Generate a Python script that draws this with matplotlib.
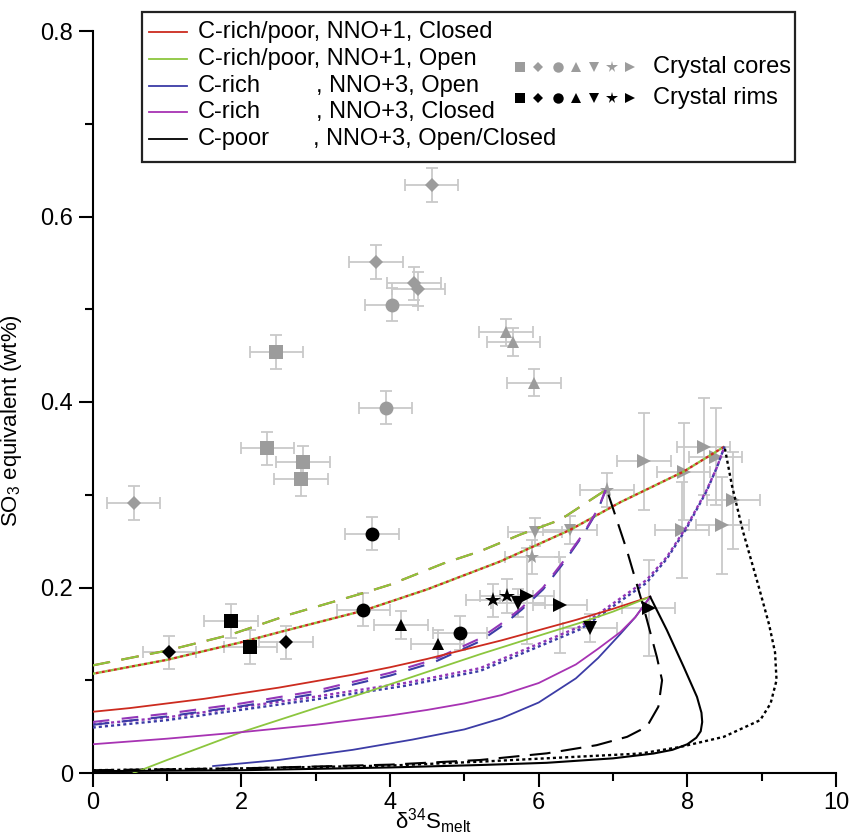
import numpy as np
import matplotlib
matplotlib.use("Agg")
import matplotlib.pyplot as plt
from matplotlib.lines import Line2D
from matplotlib.patches import Rectangle

plt.rcParams['font.family'] = ['Liberation Sans', 'DejaVu Sans']
plt.rcParams['mathtext.fontset'] = 'custom'
plt.rcParams['mathtext.rm'] = 'Liberation Sans'
plt.rcParams['mathtext.it'] = 'Liberation Sans:italic'

# ---------------- data: crystal cores (grey) ----------------
core_sq_x = [2.47, 2.35, 2.83, 2.80]
core_sq_y = [0.454, 0.350, 0.335, 0.317]
core_dia_x = [0.55, 4.56, 3.81, 4.32, 4.38]
core_dia_y = [0.291, 0.634, 0.551, 0.528, 0.522]
core_circ_x = [4.02, 3.94]
core_circ_y = [0.505, 0.394]
core_tup_x = [5.56, 5.66, 5.94]
core_tup_y = [0.475, 0.465, 0.421]
core_tdn_x = [5.95, 6.42]
core_tdn_y = [0.260, 0.262]
core_star_x = [6.92, 5.91]
core_star_y = [0.305, 0.233]
core_trt_x = [7.42, 8.22, 7.95, 8.38, 8.62, 8.47, 7.93]
core_trt_y = [0.336, 0.352, 0.325, 0.341, 0.294, 0.267, 0.262]

# ---------------- data: crystal rims (black) ----------------
rim_sq_x = [1.86, 2.12]
rim_sq_y = [0.164, 0.136]
rim_dia_x = [1.03, 2.60]
rim_dia_y = [0.130, 0.141]
rim_circ_x = [3.64, 4.94, 3.76]
rim_circ_y = [0.176, 0.151, 0.258]
rim_tup_x = [4.15, 4.64]
rim_tup_y = [0.160, 0.139]
rim_tdn_x = [5.72, 6.69]
rim_tdn_y = [0.183, 0.156]
rim_star_x = [5.38, 5.57]
rim_star_y = [0.186, 0.191]
rim_trt_x = [5.84, 6.29, 7.48]
rim_trt_y = [0.191, 0.181, 0.178]

# uncertainties
xerr_default = 0.36
yerr_small = 0.018
yerr_tri = 0.015
yerr_large = 0.052

# ---------------- model curves ----------------
red_x = [0, 0.5, 1, 1.5, 2, 2.5, 3, 3.5, 4, 4.5, 5, 5.5, 6, 6.5, 7, 7.5]
red_y = [0.066, 0.070, 0.075, 0.080, 0.086, 0.092, 0.099, 0.106, 0.114, 0.123, 0.133, 0.143, 0.154, 0.165, 0.177, 0.190]
grn_x = [0.55, 1, 2, 3, 3.64, 4.5, 5.21, 6.0, 6.56, 7.0, 7.5]
grn_y = [0.0, 0.014, 0.044, 0.070, 0.086, 0.109, 0.128, 0.148, 0.162, 0.174, 0.190]
blu_x = [1.62, 2.5, 3.5, 4.3, 5.0, 5.5, 6.0, 6.5, 6.8, 7.1, 7.3, 7.5]
blu_y = [0.0075, 0.014, 0.025, 0.036, 0.047, 0.059, 0.076, 0.102, 0.124, 0.150, 0.168, 0.190]
pur_x = [0, 1, 2, 3, 4, 4.5, 5, 5.5, 6, 6.5, 6.8, 7.1, 7.3, 7.5]
pur_y = [0.031, 0.037, 0.044, 0.052, 0.062, 0.068, 0.075, 0.084, 0.097, 0.117, 0.134, 0.152, 0.168, 0.190]
blk_x = [0, 2, 4, 5.21, 6.11, 7.0, 7.545, 7.8, 8.0, 8.12, 8.18, 8.2, 8.19, 8.13, 7.95, 7.725, 7.5]
blk_y = [0.002, 0.003, 0.006, 0.0086, 0.011, 0.0158, 0.021, 0.025, 0.031, 0.038, 0.045, 0.055, 0.065, 0.082, 0.1146, 0.154, 0.190]

rg_dash_x = [0, 1, 1.85, 2.655, 3.64, 4.0, 4.72, 5.21, 5.75, 6.29, 6.9]
rg_dash_y = [0.116, 0.132, 0.149, 0.171, 0.194, 0.203, 0.226, 0.239, 0.257, 0.273, 0.305]
pur_dash_x = [0, 1, 2, 2.97, 4.0, 4.58, 5.21, 5.48, 5.77, 6.06, 6.33, 6.6, 6.8, 6.9]
pur_dash_y = [0.055, 0.064, 0.075, 0.088, 0.108, 0.122, 0.145, 0.160, 0.178, 0.200, 0.228, 0.258, 0.285, 0.305]
blu_dash_y = [0.052, 0.061, 0.072, 0.085, 0.105, 0.119, 0.142, 0.157, 0.176, 0.198, 0.226, 0.257, 0.284, 0.305]
blk_dash_x = [0, 2, 4, 5.21, 6.11, 6.78, 7.19, 7.456, 7.61, 7.66, 7.59, 7.41, 7.187, 6.918]
blk_dash_y = [0.003, 0.005, 0.009, 0.014, 0.0212, 0.030, 0.039, 0.050, 0.0715, 0.100, 0.125, 0.179, 0.240, 0.305]

rg_dot_x = [0, 1, 2, 2.52, 3.64, 4.5, 5.48, 6.42, 7.1, 7.95, 8.5]
rg_dot_y = [0.107, 0.122, 0.141, 0.152, 0.175, 0.198, 0.228, 0.262, 0.292, 0.325, 0.352]
pur_dot_x = [0, 1, 2.97, 4.2, 5.21, 6.56, 7.45, 7.725, 7.99, 8.26, 8.4, 8.5]
pur_dot_y = [0.0525, 0.060, 0.082, 0.097, 0.113, 0.158, 0.208, 0.233, 0.2656, 0.305, 0.330, 0.352]
blu_dot_y = [0.049, 0.057, 0.079, 0.094, 0.110, 0.155, 0.205, 0.231, 0.264, 0.304, 0.330, 0.352]
blk_dot_x = [0, 2, 4, 5.21, 7.37, 7.9, 8.49, 8.98, 9.12, 9.2, 9.18, 9.1, 8.96, 8.75, 8.6, 8.5]
blk_dot_y = [0.003, 0.005, 0.008, 0.0122, 0.021, 0.028, 0.039, 0.057, 0.075, 0.100, 0.130, 0.160, 0.201, 0.260, 0.310, 0.352]

# ---------------- figure ----------------
W, H = 849, 835
fig = plt.figure(figsize=(W / 100, H / 100), dpi=100)
ax = fig.add_axes([92.7 / W, 1 - 773 / H, (836 - 92.7) / W, (773 - 31) / H])

GREY = '#9c9c9c'
EBC = '#c9c9c9'
RED = '#cc2b1f'
GREEN = '#8cc63e'
BLUE = '#3c3ca6'
PURPLE = '#a733b3'
PURPLE_D = '#9236b8'


def errpts(xs, ys, yerr):
    ax.errorbar(xs, ys, xerr=xerr_default, yerr=yerr, fmt='none', ecolor=EBC,
                elinewidth=1.3, capsize=4.5, capthick=1.3, zorder=1)


groups = [
    (core_sq_x, core_sq_y, 's', GREY, 9.5, yerr_small, 2),
    (core_dia_x, core_dia_y, 'D', GREY, 7.5, yerr_small, 2),
    (core_circ_x, core_circ_y, 'o', GREY, 10, yerr_small, 2),
    (core_tup_x, core_tup_y, '^', GREY, 9, yerr_tri, 2),
    (core_tdn_x, core_tdn_y, 'v', GREY, 9, yerr_tri, 2),
    (core_star_x, core_star_y, '*', GREY, 11, yerr_small, 2),
    (core_trt_x, core_trt_y, '>', GREY, 9.5, yerr_large, 2),
    (rim_sq_x, rim_sq_y, 's', 'black', 9.5, yerr_small, 5),
    (rim_dia_x, rim_dia_y, 'D', 'black', 7.5, yerr_small, 5),
    (rim_circ_x, rim_circ_y, 'o', 'black', 10, yerr_small, 5),
    (rim_tup_x, rim_tup_y, '^', 'black', 9, yerr_tri, 5),
    (rim_tdn_x, rim_tdn_y, 'v', 'black', 9.5, yerr_tri, 5),
    (rim_star_x, rim_star_y, '*', 'black', 11.5, yerr_small, 5),
    (rim_trt_x, rim_trt_y, '>', 'black', 10, yerr_large, 5),
]
for xs, ys, m, c, s, ye, z in groups:
    errpts(xs, ys, ye)
    ax.plot(xs, ys, linestyle='none', marker=m, color=c, markersize=s,
            markeredgewidth=0, zorder=z)

LW = 1.3
ax.plot(rg_dot_x, rg_dot_y, color=GREEN, lw=1.7, linestyle=(0, (1.3, 1.3)), zorder=3)
ax.plot(rg_dot_x, rg_dot_y, color=RED, lw=1.7, linestyle=(1.3, (1.3, 1.3)), zorder=3)
ax.plot(pur_dot_x, blu_dot_y, color=BLUE, lw=1.7, linestyle=(0, (1.3, 1.3)), zorder=3)
ax.plot(pur_dot_x, pur_dot_y, color=PURPLE_D, lw=1.7, linestyle=(0, (1.3, 1.3)), zorder=3)
ax.plot(blk_dot_x, blk_dot_y, color='black', lw=1.7, linestyle=(0, (1.3, 1.3)), zorder=3)
ax.plot(rg_dash_x, rg_dash_y, color=RED, lw=1.5, linestyle=(0, (8.5, 5.5)), zorder=3)
ax.plot(rg_dash_x, rg_dash_y, color=GREEN, lw=1.5, linestyle=(0, (8.5, 5.5)), zorder=3)
ax.plot(pur_dash_x, blu_dash_y, color=BLUE, lw=1.5, linestyle=(0, (8, 6)), zorder=3)
ax.plot(pur_dash_x, pur_dash_y, color=PURPLE_D, lw=1.5, linestyle=(0, (8, 6)), zorder=3)
ax.plot(blk_dash_x, blk_dash_y, color='black', lw=1.5, linestyle=(0, (10, 5)), zorder=3)
ax.plot(red_x, red_y, color=RED, lw=LW, zorder=3)
ax.plot(grn_x, grn_y, color=GREEN, lw=LW, zorder=3)
ax.plot(blu_x, blu_y, color=BLUE, lw=LW, zorder=3)
ax.plot(pur_x, pur_y, color=PURPLE, lw=LW, zorder=3)
ax.plot(blk_x, blk_y, color='black', lw=1.5, zorder=3)

ax.set_xlim(0, 10)
ax.set_ylim(0, 0.8)
ax.set_xticks([0, 2, 4, 6, 8, 10])
ax.set_xticklabels(['0', '2', '4', '6', '8', '10'])
ax.set_xticks([1, 3, 5, 7, 9], minor=True)
ax.set_yticks([0, 0.2, 0.4, 0.6, 0.8])
ax.set_yticklabels(['0', '0.2', '0.4', '0.6', '0.8'])
ax.set_yticks([0.1, 0.3, 0.5, 0.7], minor=True)
for s in ['top', 'right']:
    ax.spines[s].set_visible(False)
for s in ['left', 'bottom']:
    ax.spines[s].set_linewidth(1.5)
ax.tick_params(which='major', direction='out', length=10, width=1.5, labelsize=17, pad=4)
ax.tick_params(which='minor', direction='out', length=6, width=1.5)

ax.set_ylabel('SO$_3$ equivalent (wt%)', fontsize=16)
ax.yaxis.set_label_coords(-0.092, 0.475)
ax.set_xlabel('δ$^{34}$S$_{\\mathrm{melt}}$', fontsize=16)
ax.xaxis.set_label_coords(0.458, -0.045)


def fx(px):
    return px / W


def fy(py):
    return 1 - py / H


fig.add_artist(Rectangle((fx(142), fy(162)), fx(795) - fx(142), fy(12) - fy(162),
                         transform=fig.transFigure, fill=True, facecolor='white',
                         edgecolor='#222222', lw=1.6, zorder=10))
leg_colors = [RED, GREEN, BLUE, PURPLE, 'black']
leg_first = ['C-rich/poor, NNO+1, Closed', 'C-rich/poor, NNO+1, Open', 'C-rich', 'C-rich', 'C-poor']
leg_second = [None, None, ', NNO+3, Open', ', NNO+3, Closed', ', NNO+3, Open/Closed']
leg_second_x = [0, 0, 316, 316, 313]
rows = [32, 59, 86, 112, 139]
for c, t1, t2, x2, r in zip(leg_colors, leg_first, leg_second, leg_second_x, rows):
    fig.add_artist(Line2D([fx(149), fx(187)], [fy(r), fy(r)], color=c, lw=1.3,
                          transform=fig.transFigure, zorder=11))
    fig.text(fx(198), fy(r), t1, fontsize=17, va='center', ha='left', zorder=11)
    if t2:
        fig.text(fx(x2), fy(r), t2, fontsize=17, va='center', ha='left', zorder=11)

mk = ['s', 'D', 'o', '^', 'v', '*', '>']
mk_size = [7, 5.5, 7.5, 7, 7, 8.5, 7]
mk_x = [520, 538, 558, 576, 594, 612, 630]
for cy, col, lab in [(67, GREY, 'Crystal cores'), (98, 'black', 'Crystal rims')]:
    for m, s, x in zip(mk, mk_size, mk_x):
        fig.add_artist(Line2D([fx(x)], [fy(cy)], marker=m, color=col, markersize=s,
                              markeredgewidth=0, linestyle='none',
                              transform=fig.transFigure, zorder=11))
    fig.text(fx(653), fy(cy), lab, fontsize=17, va='center', ha='left', zorder=11)

fig.savefig('out.png', dpi=100)
